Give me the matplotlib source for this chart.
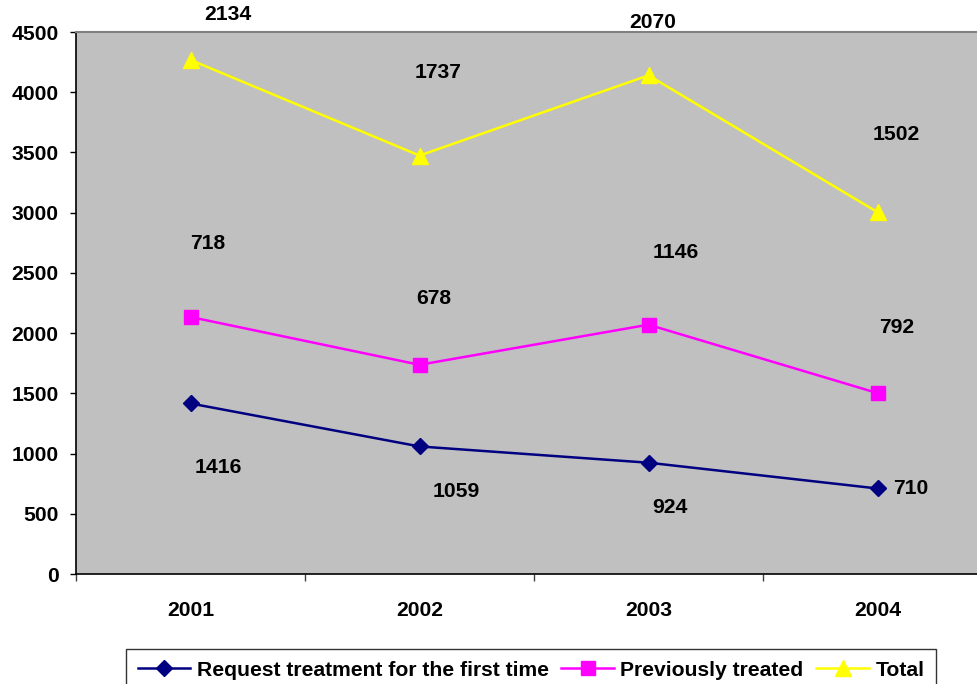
import matplotlib
matplotlib.use("Agg")
import matplotlib.pyplot as plt
import numpy as np

years = ["2001", "2002", "2003", "2004"]
first_time = [1416, 1059, 924, 710]
previously = [718, 678, 1146, 792]
total = [2134, 1737, 2070, 1502]
series_names = ["Request treatment for the first time", "Previously treated", "Total"]
y_ticks = [0, 500, 1000, 1500, 2000, 2500, 3000, 3500, 4000, 4500]

plt.rcParams["font.family"] = ["Liberation Sans", "DejaVu Sans"]
plt.rcParams["font.weight"] = "bold"
FS = 15.2

W, H = 977, 684
fig = plt.figure(figsize=(W / 100, H / 100), dpi=100)
ax = fig.add_axes([76 / W, (H - 574) / H, (992 - 76) / W, 542 / H])
ax.set_facecolor("#C0C0C0")

x = np.arange(len(years))
# stacked lines: each series sits on top of the previous ones
stack1 = np.array(first_time)
stack2 = stack1 + np.array(previously)
stack3 = stack2 + np.array(total)

styles = [
    dict(color="#000080", marker="D", markersize=8.5),
    dict(color="#FF00FF", marker="s", markersize=9.5),
    dict(color="#FFFF00", marker="^", markersize=11),
]
lines = []
for ys, st, name in zip([stack1, stack2, stack3], styles, series_names):
    (ln,) = ax.plot(x, ys, lw=1.8, label=name, clip_on=False, **st)
    lines.append(ln)

# data labels (offsets in pixels: right, down)
label_offsets = [
    [(28, 64), (37, 45), (21, 45), (33, 0)],
    [(17, -73), (14, -66), (27, -72), (19, -66)],
    [(37, -45), (19, -83), (4, -53), (19, -78)],
]
for vals, ys, offs in zip([first_time, previously, total], [stack1, stack2, stack3], label_offsets):
    for xi, v, yv, (dx, dy) in zip(x, vals, ys, offs):
        ax.annotate(f"{v}", (xi, yv), xytext=(dx * 0.72, -dy * 0.72),
                    textcoords="offset points", ha="center", va="center",
                    fontsize=FS, fontweight="bold", annotation_clip=False)

ax.set_xlim(-0.5, len(years) - 0.5)
ax.set_ylim(0, 4500)
ax.set_yticks(y_ticks)
ax.set_yticklabels([str(t) for t in y_ticks], fontsize=FS, fontweight="bold")
ax.set_xticks(x)
ax.set_xticklabels(years, fontsize=FS, fontweight="bold")
ax.set_xticks(np.arange(-0.5, len(years)), minor=True)
ax.tick_params(axis="x", which="major", length=0, pad=19.5)
ax.tick_params(axis="x", which="minor", length=5, width=1, color="#404040")
ax.tick_params(axis="y", length=4.5, width=1, pad=8)

ax.spines["right"].set_visible(False)
ax.spines["top"].set_color("#808080")
ax.spines["top"].set_linewidth(1.5)
ax.spines["left"].set_color("black")
ax.spines["bottom"].set_color("black")
ax.spines["left"].set_linewidth(1.2)
ax.spines["bottom"].set_linewidth(1.2)

leg = fig.legend(handles=lines, labels=series_names, loc="upper left",
                 bbox_to_anchor=(126 / W, 1 - 649 / H), ncol=3,
                 frameon=True, fancybox=False, edgecolor="black",
                 prop=dict(size=FS, weight="bold"), handlelength=2.5,
                 handletextpad=0.3, columnspacing=0.6, borderpad=0.55,
                 borderaxespad=0)
leg.get_frame().set_linewidth(1.0)

fig.savefig("out.png", dpi=100)
